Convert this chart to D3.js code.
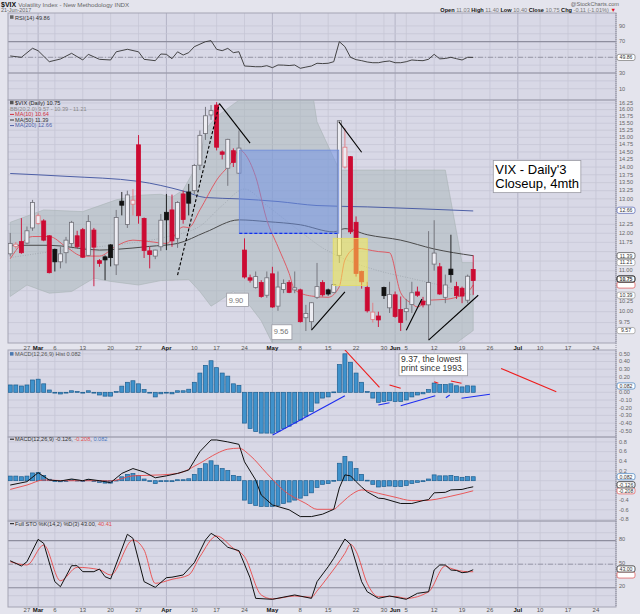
<!DOCTYPE html>
<html>
<head>
<meta charset="utf-8">
<script src="https://cdn.jsdelivr.net/npm/d3@7"></script>
<style>
  body { margin: 0; background: #e4e4ed; }
  svg { display: block; font-family: "Liberation Sans", Arial, sans-serif; }
</style>
</head>
<body>
<script>
const width = 640;
const height = 614;
const left = 8;
const right = 616;

// daily candles, 22-Feb-2017 .. 21-Jun-2017 (trading day index 0..83)
const open = [11.44,11.64,11.77,11.73,12.15,12.28,12.35,11.93,11.56,11.23,
  11.47,11.72,11.93,12.10,11.40,12.09,11.26,11.36,11.68,11.15,
  12.93,12.25,12.84,14.74,12.42,11.52,11.38,11.63,12.60,12.67,
  11.86,13.15,13.21,13.25,14.06,15.13,15.80,16.17,14.50,13.96,
  14.54,13.80,11.54,10.82,10.58,10.70,10.39,10.92,10.13,10.53,
  10.70,10.52,10.52,9.86,9.77,10.34,10.70,10.52,10.46,11.40,
  14.00,14.34,12.31,10.98,10.58,9.82,9.90,10.58,10.09,10.40,
  10.05,10.00,10.17,10.47,10.25,10.16,11.17,11.10,10.34,11.04,
  10.60,10.56,10.27,11.03];
const high = [12.01,11.76,12.43,12.19,12.97,12.57,12.40,11.95,11.58,11.63,
  11.90,12.35,12.07,12.15,12.52,12.15,11.30,11.40,11.70,12.67,
  13.21,13.25,13.30,15.08,12.45,11.63,11.55,12.55,13.15,13.13,
  12.93,13.25,13.46,14.10,15.24,16.10,16.17,16.28,14.55,14.95,
  14.62,15.24,11.86,10.90,10.98,10.76,10.98,11.10,10.98,10.78,
  10.76,10.98,10.55,10.16,10.22,11.20,10.76,10.55,10.67,15.60,
  15.32,14.36,12.48,11.00,10.72,10.21,10.00,10.60,10.72,10.48,
  10.36,10.30,10.72,10.60,10.35,12.06,12.37,11.20,10.90,11.96,
  10.72,10.60,10.90,11.40];
const low = [11.37,11.58,11.44,11.70,12.07,12.24,11.78,10.93,10.98,11.06,
  11.19,11.63,11.59,11.33,11.38,10.61,11.10,10.76,11.11,10.89,
  12.51,12.15,12.51,12.27,11.33,11.06,11.30,11.52,11.54,11.63,
  11.60,12.27,12.51,13.15,13.90,14.91,15.62,14.55,14.25,13.40,
  14.00,13.78,10.80,10.70,10.55,10.33,10.33,10.09,10.02,10.44,
  10.44,10.44,9.75,9.56,9.60,10.30,10.36,10.38,10.44,11.20,
  13.95,11.98,10.85,10.55,9.98,9.75,9.65,10.30,9.97,9.86,
  9.56,9.80,9.97,10.35,10.10,9.37,11.00,10.40,10.20,10.70,
  10.30,10.20,10.20,10.40];
const close = [11.72,11.70,11.47,12.07,12.89,12.50,11.81,10.95,11.23,11.44,
  11.81,12.31,11.63,11.35,12.33,11.62,11.19,11.28,11.34,12.45,
  12.81,13.12,12.96,12.50,11.53,11.42,11.54,12.37,12.38,11.79,
  12.89,12.39,12.87,14.05,15.07,15.77,15.96,14.66,14.42,14.93,
  14.15,14.63,10.84,10.76,10.85,10.36,10.82,10.11,10.59,10.68,
  10.46,10.57,9.77,9.96,10.21,10.60,10.40,10.42,10.65,15.59,
  14.66,12.04,10.93,10.72,10.02,9.99,9.81,10.38,10.41,9.89,
  9.75,10.07,10.45,10.39,10.16,10.70,11.46,10.42,10.64,10.90,
  10.38,10.37,10.86,10.75];

// overlays: [day index, value]
const ma10 = [[0,11.31],[4,11.91],[7,11.91],[10,11.63],[13,11.38],[16,11.38],[19,11.65],[22,11.81],[25,11.77],[28,11.72],[31,12.18],[32,12.16],[34,12.67],[37,13.58],[40,14.25],[41,14.59],[42,14.45],[44,13.69],[46,12.38],[48,11.63],[50,10.93],[51,10.52],[54,10.37],[57,10.34],[59,10.60],[60,11.28],[62,11.59],[66,11.50],[68,11.47],[70,10.45],[72,10.19],[73,10.11],[75,10.27],[78,10.29],[82,10.47],[83,10.64]];
const ma50 = [[0,11.67],[7,11.67],[16,11.54],[19,11.56],[25,11.64],[30,11.72],[35,12.03],[41,12.38],[46,12.33],[52,12.24],[58,12.04],[60,12.13],[64,11.96],[70,11.81],[76,11.57],[83,11.39]];
const ma200 = [[0,13.79],[10,13.70],[23,13.54],[31,13.24],[35,13.04],[41,13.00],[48,12.92],[55,12.80],[64,12.76],[74,12.70],[83,12.64]];
const bbUpper = [[0,12.31],[6,12.67],[13,12.62],[19,12.97],[23,13.11],[27,13.14],[29,13.05],[31,13.27],[34,14.23],[35,15.28],[37,15.74],[40,16.20],[42,16.50],[44,16.90],[54,16.90],[55,15.55],[59,13.90],[78,13.90],[81,11.21],[83,11.21]];
const bbLower = [[0,10.36],[3,10.64],[7,10.44],[11,10.48],[15,10.81],[18,10.73],[23,10.64],[27,10.75],[32,10.78],[34,10.48],[36,10.13],[37,10.21],[40,10.48],[41,10.36],[43,10.13],[45,9.79],[47,9.29],[48,8.90],[79,8.90],[80,9.30],[83,9.57]];
const bbMid = [[0,11.34],[10,11.55],[20,11.70],[28,11.90],[34,12.20],[38,12.80],[42,13.30],[46,12.80],[52,12.05],[56,11.60],[60,11.30],[66,11.00],[72,10.80],[78,10.60],[83,10.39]];

const rsi = [[0,51.7],[2,50],[4,61.5],[5,58.4],[7,44.4],[9,47.8],[11,55.1],[13,46.6],[14,53.8],[16,47.4],[18,46.6],[19,57],[21,60.2],[23,57],[24,47.4],[26,45.7],[27,54.2],[28,53.8],[29,48.2],[30,57],[31,52.9],[32,55.9],[33,63.5],[35,69.9],[36,71.2],[37,60.2],[38,58.4],[39,61.4],[40,55.9],[41,57.1],[42,38.9],[43,38.5],[44,38.0],[45,38.0],[46,39.3],[47,36.8],[48,40.2],[49,40],[50,39.5],[51,40.2],[52,36.0],[53,37.5],[54,38.9],[55,42.4],[56,42],[57,42.4],[58,44.4],[59,69.9],[60,63.5],[61,50],[62,47],[63,45.7],[64,44],[65,43.1],[66,43.1],[67,44.5],[68,45.3],[69,43.1],[70,43.1],[71,44.4],[72,46.6],[73,46],[74,45.7],[75,47.5],[76,53.8],[77,48],[78,48.5],[79,50],[80,48.2],[81,46.6],[82,50],[83,49.86]];

const macdHist = [0.095,0.095,0.082,0.095,0.16,0.17,0.11,0.03,-0.005,-0.022,
  -0.01,0.02,0.01,-0.005,0.02,0.0,-0.035,-0.05,-0.05,0.01,
  0.08,0.13,0.15,0.11,0.035,-0.005,-0.06,-0.02,-0.01,-0.02,
  0.02,0.02,0.04,0.13,0.25,0.35,0.41,0.32,0.25,0.21,
  0.11,0.09,-0.40,-0.47,-0.51,-0.53,-0.53,-0.53,-0.51,-0.47,
  -0.44,-0.40,-0.36,-0.31,-0.25,-0.14,-0.075,-0.06,0.005,0.36,
  0.50,0.39,0.25,0.13,0.01,-0.075,-0.13,-0.12,-0.11,-0.12,
  -0.12,-0.10,-0.06,-0.035,-0.02,0.035,0.12,0.10,0.10,0.11,
  0.085,0.07,0.085,0.082];
const macdLine = [[0,-0.09],[3,-0.02],[5,0.165],[7,0.015],[9,-0.006],[11,0.035],[13,0.0],[14,0.03],[16,0.0],[18,-0.04],[20,0.15],[22,0.25],[24,0.18],[26,0.06],[28,0.10],[30,0.15],[32,0.22],[34,0.60],[36,0.84],[37,0.84],[39,0.80],[41,0.75],[42,0.39],[44,0.015],[45,-0.295],[47,-0.50],[50,-0.60],[52,-0.74],[54,-0.74],[56,-0.69],[58,-0.59],[59,-0.15],[60,0.12],[61,0.10],[62,-0.02],[63,-0.13],[64,-0.23],[66,-0.36],[67,-0.37],[70,-0.47],[72,-0.47],[74,-0.41],[75,-0.39],[76,-0.25],[78,-0.24],[79,-0.19],[81,-0.18],[82,-0.15],[83,-0.126]];
const macdSignal = [[0,-0.18],[3,-0.09],[6,0.015],[10,0.0],[15,0.0],[18,-0.005],[22,0.10],[27,0.12],[30,0.15],[34,0.36],[37,0.56],[39,0.65],[41,0.67],[43,0.52],[46,0.15],[49,-0.20],[53,-0.47],[55,-0.59],[58,-0.59],[59,-0.50],[61,-0.30],[63,-0.19],[66,-0.26],[69,-0.34],[72,-0.41],[74,-0.41],[79,-0.32],[83,-0.208]];

const stoK = [[0,54.4],[2,47.7],[3,53.2],[5,81.6],[6,76.5],[8,27.8],[9,21.4],[11,48.1],[12,48.1],[13,40.5],[15,40.5],[16,43.9],[17,34.1],[18,31.2],[21,88],[22,82.9],[24,27.8],[26,20.6],[28,32.9],[29,33.5],[31,36.3],[33,51.9],[35,80.7],[36,89.2],[37,85],[39,71.5],[41,67.2],[43,32.6],[44,6.6],[47,5.4],[51,10.9],[54,6.6],[55,27.8],[57,46.8],[58,57.5],[60,82],[61,75.3],[63,27.8],[64,15],[66,6.6],[68,9.6],[71,5.4],[73,13],[75,15],[76,42.6],[77,49],[78,49],[79,42.6],[80,42],[81,39.2],[82,40],[83,43]];
const stoD = [[0,53.2],[3,49],[6,74.4],[9,29],[12,46],[16,43],[18,36.3],[22,80.7],[24,68],[26,25.7],[29,30.8],[32,36.3],[34,59.5],[37,85.8],[40,70.2],[42,59.5],[45,10.9],[47,5.9],[51,9.6],[54,8.0],[55,16],[57,34.1],[60,63.8],[61,75.3],[62,66.5],[64,25.7],[66,8.7],[69,9.0],[71,6.6],[75,15],[78,47.7],[79,44.7],[82,40.5],[83,40.41]];

// x axis: trading day index of each label
const tickIdx = [3,5,8,13,18,23,28,33,37,42,47,52,57,62,67,69,71,76,81,86,91,95,100,105];
const tickLbl = ["27","Mar","6","13","20","27","Apr","10","17","24","May","8","15","22","30","Jun","5","12","19","26","Jul","10","17","24"];

const svg = d3.select("body").append("svg").attr("width", width).attr("height", height);

const x = d3.scaleLinear().domain([-0.4, 108.6]).range([left, right]);

const panels = [
  { id: "rsi", top: 13, bottom: 100 },
  { id: "main", top: 100, bottom: 343 },
  { id: "hist", top: 350, bottom: 437 },
  { id: "macd", top: 437, bottom: 521 },
  { id: "sto", top: 521, bottom: 607 },
];
const yRsi = d3.scaleLinear().domain([-4.39, 106.43]).range([100, 13]);
const yMain = d3.scaleLog().domain([9.2975, 16.3606]).range([343, 100]);
const yHist = d3.scaleLinear().domain([-0.5805, 0.5494]).range([437, 350]);
const yMacd = d3.scaleLinear().domain([-0.831, 0.901]).range([521, 437]);
const ySto = d3.scaleLinear().domain([-4.38, 104.89]).range([607, 521]);

// value tags at the right edge: [value, text, border colour, bold, text shown]
const rsiTags = [[49.86, "49.86", "#777", false, true]];
const mainTags = [[12.66, "12.66", "#5060b0", false, true], [11.39, "11.39", "#444", false, true],
  [11.21, "11.21", "#999", false, true], [10.64, "10.64", "#e05050", false, false],
  [10.75, "10.75", "#111", true, true], [10.39, "10.39", "#999", false, true], [9.57, "9.57", "#999", false, true]];
const histTags = [[0.082, "0.082", "#3f7fc0", false, true]];
const macdTags = [[0.082, "0.082", "#3f7fc0", false, true], [-0.208, "-0.208", "#e05050", false, true],
  [-0.126, "-0.126", "#111", false, true]];
const stoTags = [[40.41, "40.41", "#e05050", false, false], [43.0, "43.00", "#111", false, true]];

// panel backgrounds and clips
panels.forEach((p) => {
  svg.append("rect").attr("x", left).attr("y", p.top)
    .attr("width", right - left).attr("height", p.bottom - p.top)
    .attr("fill", "#d8d8e6");
  svg.append("clipPath").attr("id", "clip-" + p.id)
    .append("rect").attr("x", left).attr("y", p.top)
    .attr("width", right - left).attr("height", p.bottom - p.top);
});

function hGrid(scale, vals, fmt, tags, dy) {
  const g = svg.append("g");
  vals.forEach((v) => {
    g.append("line").attr("x1", left).attr("x2", right)
      .attr("y1", scale(v)).attr("y2", scale(v))
      .attr("stroke", "#c6c6d6").attr("stroke-width", 0.8);
    const hidden = (tags || []).some((t) => Math.abs(scale(t[0]) - scale(v)) < 5.5);
    if (fmt && !hidden) {
      g.append("text").attr("x", right + 3).attr("y", scale(v) + (dy === undefined ? 1.8 : dy))
        .attr("font-size", 5.6).attr("fill", "#666").text(fmt(v));
    }
  });
}

// vertical grid, all panels
panels.forEach((p) => {
  tickIdx.forEach((t, k) => {
    const month = isNaN(+tickLbl[k]);
    svg.append("line").attr("x1", x(t)).attr("x2", x(t))
      .attr("y1", p.top).attr("y2", p.bottom)
      .attr("stroke", month ? "#b4b4c6" : "#c6c6d6").attr("stroke-width", month ? 1 : 0.8);
  });
});

// horizontal grids + right labels
hGrid(yRsi, [10, 30, 50, 70, 90], (v) => v, rsiTags);
hGrid(yRsi, [20, 40, 60, 80]);
hGrid(yMain, d3.range(38, 66).map((k) => k / 4), (v) => v.toFixed(2), mainTags);
hGrid(yHist, d3.range(-5, 6).map((k) => k / 10), (v) => v.toFixed(2), histTags);
hGrid(yMacd, d3.range(-4, 5).map((k) => k / 5), (v) => v.toFixed(1), macdTags);
hGrid(ySto, [20, 50, 80], (v) => v, stoTags, 0.6);
hGrid(ySto, [10, 30, 40, 60, 70, 90]);

// reference lines in oscillators
[[yRsi, 70], [yRsi, 30], [ySto, 80], [ySto, 20]].forEach(([s, v]) => {
  svg.append("line").attr("x1", left).attr("x2", right).attr("y1", s(v)).attr("y2", s(v))
    .attr("stroke", "#8e8e9e").attr("stroke-width", 1.1);
});
[[yRsi, 50], [ySto, 50]].forEach(([s, v]) => {
  svg.append("line").attr("x1", left).attr("x2", right).attr("y1", s(v)).attr("y2", s(v))
    .attr("stroke", "#8a8a9a").attr("stroke-width", 0.8).attr("stroke-dasharray", "5,2,1,2");
});

// panel frames
panels.forEach((p) => {
  svg.append("rect").attr("x", left).attr("y", p.top)
    .attr("width", right - left).attr("height", p.bottom - p.top)
    .attr("fill", "none").attr("stroke", "#a4a4b4").attr("stroke-width", 1);
});
svg.append("line").attr("x1", right).attr("x2", right).attr("y1", 13).attr("y2", 607)
  .attr("stroke", "#8c8c9c").attr("stroke-dasharray", "1,1");

const lineOf = (ys) => d3.line().x((d) => x(d[0])).y((d) => ys(d[1]));

// ---------- RSI ----------
svg.append("path").datum(rsi).attr("clip-path", "url(#clip-rsi)")
  .attr("d", lineOf(yRsi)).attr("fill", "none").attr("stroke", "#333").attr("stroke-width", 0.9);

// ---------- main price panel ----------
const main = svg.append("g").attr("clip-path", "url(#clip-main)");

// Bollinger band: upper edge forward, lower edge back
main.append("path")
  .datum(bbUpper.concat(bbLower.slice().reverse()))
  .attr("d", (d) => lineOf(yMain)(d) + "Z")
  .attr("fill", "#a7b6b8").attr("fill-opacity", 0.5)
  .attr("stroke", "#a9b3b6").attr("stroke-width", 0.6);

main.append("path").datum(bbMid).attr("d", lineOf(yMain).curve(d3.curveMonotoneX))
  .attr("fill", "none").attr("stroke", "#9aa0a8").attr("stroke-width", 0.7).attr("stroke-dasharray", "1,1.5");
main.append("path").datum(ma200).attr("d", lineOf(yMain).curve(d3.curveMonotoneX))
  .attr("fill", "none").attr("stroke", "#4d5fa6").attr("stroke-width", 1);
main.append("path").datum(ma50).attr("d", lineOf(yMain).curve(d3.curveMonotoneX))
  .attr("fill", "none").attr("stroke", "#4a4a4a").attr("stroke-width", 1);
main.append("path").datum(ma10).attr("d", lineOf(yMain).curve(d3.curveMonotoneX))
  .attr("fill", "none").attr("stroke", "#e0505a").attr("stroke-width", 0.9);

// candles: black/red by change vs previous close, filled when close < open
const candles = d3.range(close.length).map((i) => {
  const prev = i > 0 ? close[i - 1] : open[i];
  return { i, o: open[i], h: high[i], l: low[i], c: close[i], up: close[i] >= prev, filled: close[i] < open[i] };
});
const cg = main.selectAll("g.candle").data(candles).join("g").attr("class", "candle");
const strokeOf = (d) => (d.up ? (d.filled ? "#111" : "#6e6e76") : (d.filled ? "#cc0a32" : "#e07a80"));
cg.append("line")
  .attr("x1", (d) => x(d.i)).attr("x2", (d) => x(d.i))
  .attr("y1", (d) => yMain(d.h)).attr("y2", (d) => yMain(d.l))
  .attr("stroke", strokeOf).attr("stroke-width", 0.9);
cg.append("rect")
  .attr("x", (d) => x(d.i) - 2).attr("width", 4)
  .attr("y", (d) => yMain(Math.max(d.o, d.c)))
  .attr("height", (d) => Math.max(1, yMain(Math.min(d.o, d.c)) - yMain(Math.max(d.o, d.c))))
  .attr("fill", (d) => (d.filled ? strokeOf(d) : "#ececf2"))
  .attr("stroke", strokeOf).attr("stroke-width", 0.8);

// annotations, in chart units [day, price]
const blueBox = { i0: 41.07, i1: 58.9, p0: 12.0, p1: 14.56 };
const yellowBox = { i0: 57.9, i1: 64.0, p0: 10.63, p1: 11.86 };
main.append("rect")
  .attr("x", x(blueBox.i0)).attr("width", x(blueBox.i1) - x(blueBox.i0))
  .attr("y", yMain(blueBox.p1)).attr("height", yMain(blueBox.p0) - yMain(blueBox.p1))
  .attr("fill", "#6c8fe6").attr("fill-opacity", 0.5).attr("stroke", "#6d8ad8").attr("stroke-width", 0.8);
main.append("line")
  .attr("x1", x(blueBox.i0)).attr("x2", x(blueBox.i1))
  .attr("y1", yMain(blueBox.p0)).attr("y2", yMain(blueBox.p0))
  .attr("stroke", "#1030f0").attr("stroke-width", 1.3).attr("stroke-dasharray", "3,2");
main.append("rect")
  .attr("x", x(yellowBox.i0)).attr("width", x(yellowBox.i1) - x(yellowBox.i0))
  .attr("y", yMain(yellowBox.p1)).attr("height", yMain(yellowBox.p0) - yMain(yellowBox.p1))
  .attr("fill", "#fff34a").attr("fill-opacity", 0.5).attr("stroke", "#e8e060").attr("stroke-width", 0.8);

const priceLines = [
  { a: [30, 10.89], b: [37.5, 16.22], dash: true },
  { a: [37.5, 16.22], b: [43, 14.8] },
  { a: [58.9, 15.56], b: [63, 14.49] },
  { a: [54, 9.58], b: [60, 10.47] },
  { a: [71, 9.58], b: [73.8, 10.3] },
  { a: [75, 9.36], b: [83.9, 10.39] },
];
main.selectAll("line.trend").data(priceLines).join("line").attr("class", "trend")
  .attr("x1", (d) => x(d.a[0])).attr("y1", (d) => yMain(d.a[1]))
  .attr("x2", (d) => x(d.b[0])).attr("y2", (d) => yMain(d.b[1]))
  .attr("stroke", "#000").attr("stroke-width", 1.1)
  .attr("stroke-dasharray", (d) => (d.dash ? "3,2" : null));

function noteBox(g, i0, i1, yTop, yBot, lines, size, colour, baseline) {
  g.append("rect").attr("x", x(i0)).attr("y", yTop)
    .attr("width", x(i1) - x(i0)).attr("height", yBot - yTop)
    .attr("fill", "#fff").attr("stroke", "#9a9aa4").attr("stroke-width", 0.8);
  lines.forEach((t, k) => {
    g.append("text").attr("x", x(i0) + 2).attr("y", yTop + baseline + k * size * 1.05)
      .attr("font-size", size).attr("fill", colour).text(t);
  });
}
noteBox(main, 86.6, 102.3, yMain(14.21), yMain(13.19), ["VIX - Daily'3", "Closeup, 4mth"], 13, "#000", 13.5);
noteBox(main, 38.8, 42.7, yMain(10.44), yMain(10.12), ["9.90"], 7.5, "#777", 10);
noteBox(main, 46.9, 50.5, yMain(9.70), yMain(9.37), ["9.56"], 7.5, "#777", 9.5);

// ---------- MACD histogram panel ----------
const hist = svg.append("g").attr("clip-path", "url(#clip-hist)");
hist.selectAll("rect").data(macdHist).join("rect")
  .attr("x", (d, i) => x(i) - 2).attr("width", 4)
  .attr("y", (d) => Math.min(yHist(d), yHist(0)))
  .attr("height", (d) => Math.max(0.8, Math.abs(yHist(d) - yHist(0))))
  .attr("fill", "#3f92cc").attr("stroke", "#1f5f90").attr("stroke-width", 0.7);

const histLines = [
  { a: [47.05, -0.555], b: [60, -0.044], c: "#1d2df0" },
  { a: [60, 0.55], b: [66.2, 0.065], c: "#ee1c1c" },
  { a: [68, 0.095], b: [70, 0.052], c: "#ee1c1c" },
  { a: [66, -0.165], b: [68, -0.135], c: "#1d2df0" },
  { a: [70, -0.174], b: [76.2, -0.044], c: "#1d2df0" },
  { a: [76, 0.138], b: [76.75, 0.117], c: "#ee1c1c" },
  { a: [78.1, -0.07], b: [78.8, -0.035], c: "#1d2df0" },
  { a: [79, 0.147], b: [80.9, 0.117], c: "#ee1c1c" },
  { a: [80.9, -0.078], b: [86, -0.026], c: "#1d2df0" },
  { a: [88, 0.31], b: [97.9, 0.008], c: "#ee1c1c" },
];
hist.selectAll("line.trend").data(histLines).join("line").attr("class", "trend")
  .attr("x1", (d) => x(d.a[0])).attr("y1", (d) => yHist(d.a[1]))
  .attr("x2", (d) => x(d.b[0])).attr("y2", (d) => yHist(d.b[1]))
  .attr("stroke", (d) => d.c).attr("stroke-width", 1.1);
noteBox(hist, 69.7, 82.0, yHist(0.5), yHist(0.215), ["9.37, the lowest", "print since 1993."], 8.6, "#333", 8.5);

// ---------- MACD panel ----------
const macd = svg.append("g").attr("clip-path", "url(#clip-macd)");
macd.selectAll("rect").data(macdHist).join("rect")
  .attr("x", (d, i) => x(i) - 2).attr("width", 4)
  .attr("y", (d) => Math.min(yMacd(d), yMacd(0)))
  .attr("height", (d) => Math.max(0.8, Math.abs(yMacd(d) - yMacd(0))))
  .attr("fill", "#3f92cc").attr("stroke", "#1f5f90").attr("stroke-width", 0.7);
macd.append("path").datum(macdSignal).attr("d", lineOf(yMacd).curve(d3.curveMonotoneX))
  .attr("fill", "none").attr("stroke", "#ea4a4a").attr("stroke-width", 0.9);
macd.append("path").datum(macdLine).attr("d", lineOf(yMacd))
  .attr("fill", "none").attr("stroke", "#111").attr("stroke-width", 1);

// ---------- Stochastics ----------
const sto = svg.append("g").attr("clip-path", "url(#clip-sto)");
sto.append("path").datum(stoD).attr("d", lineOf(ySto).curve(d3.curveMonotoneX))
  .attr("fill", "none").attr("stroke", "#ea4a4a").attr("stroke-width", 0.9);
sto.append("path").datum(stoK).attr("d", lineOf(ySto))
  .attr("fill", "none").attr("stroke", "#111").attr("stroke-width", 1);

// ---------- x axis labels ----------
[349.5, 612].forEach((yy) => {
  tickIdx.forEach((t, k) => {
    const month = isNaN(+tickLbl[k]);
    svg.append("text").attr("x", x(t)).attr("y", yy).attr("text-anchor", "middle")
      .attr("font-size", 6).attr("font-weight", month ? "bold" : "normal")
      .attr("fill", month ? "#111" : "#555").text(tickLbl[k]);
  });
});

// ---------- value tags on the right ----------
function drawTags(scale, tags, nudge) {
  let lastY = -99;
  tags.forEach(([v, txt, colour, bold, shown]) => {
    let y = scale(v) + (nudge || 0);
    if (shown && Math.abs(y - lastY) < 6) y = lastY + (y > lastY ? 6 : -6);
    svg.append("rect").attr("x", right + 1).attr("y", y - 3.1).attr("width", 18).attr("height", 6.2)
      .attr("rx", 2).attr("fill", "#fff").attr("stroke", colour).attr("stroke-width", bold ? 1 : 0.7);
    if (shown) {
      svg.append("text").attr("x", right + 10).attr("y", y + 1.9).attr("text-anchor", "middle")
        .attr("font-size", 5.2).attr("font-weight", bold ? "bold" : "normal").attr("fill", "#333").text(txt);
    }
    lastY = y;
  });
}
drawTags(yRsi, rsiTags);
drawTags(yMain, mainTags);
drawTags(yHist, histTags);
drawTags(yMacd, macdTags);
drawTags(ySto, stoTags, 3.2);

// ---------- legends ----------
function legend(y, parts, icon, box) {
  if (icon) {
    svg.append("line").attr("x1", 10).attr("x2", 14).attr("y1", y - 1.8).attr("y2", y - 1.8)
      .attr("stroke", icon).attr("stroke-width", 1);
  }
  if (box) {
    svg.append("rect").attr("x", 10).attr("y", y - 4.2).attr("width", 3.5).attr("height", 3.5).attr("fill", box);
  }
  const t = svg.append("text").attr("x", icon || box ? 15 : 10).attr("y", y).attr("font-size", 5.6);
  parts.forEach(([s, c]) => t.append("tspan").attr("fill", c).text(s));
}
legend(105, [["$VIX (Daily) 10.75", "#222"]], null, "#555");
legend(110.6, [["BB(20,2.0) 9.57 - 10.39 - 11.21", "#888"]]);
legend(116.2, [["MA(10) 10.64", "#d03040"]], "#d03040");
legend(121.8, [["MA(50) 11.39", "#333"]], "#333");
legend(127.4, [["MA(200) 12.66", "#4d5fa6"]], "#4d5fa6");
legend(19.5, [["RSI(14) 49.86", "#333"]], null, "#666");
legend(356.3, [["MACD(12,26,9) Hist 0.082", "#555"]], null, "#4a78b0");
legend(441, [["MACD(12,26,9) -0.126, ", "#333"], ["-0.208", "#e05050"], [", ", "#333"], ["0.082", "#4a78c0"]], "#111");
legend(525.5, [["Full STO %K(14,2) %D(3) 43.00, ", "#333"], ["40.41", "#e05050"]], "#111");

// ---------- header ----------
const head = svg.append("text").attr("x", 1).attr("y", 6.5).attr("font-size", 6.2);
head.append("tspan").attr("font-weight", "bold").attr("font-size", 7).attr("fill", "#111").text("$VIX ");
head.append("tspan").attr("fill", "#666").text("Volatility Index - New Methodology INDX");
svg.append("text").attr("x", 1).attr("y", 12.3).attr("font-size", 5.4).attr("fill", "#666").text("21-Jun-2017");
svg.append("text").attr("x", right + 3).attr("y", 6).attr("text-anchor", "end")
  .attr("font-size", 5.6).attr("fill", "#666").text("@StockCharts.com");
const quote = svg.append("text").attr("x", right).attr("y", 12.3).attr("text-anchor", "end").attr("font-size", 5.6);
[["Open ", true], ["11.03 ", false], ["High ", true], ["11.40 ", false], ["Low ", true], ["10.40 ", false],
 ["Close ", true], ["10.75 ", false], ["Chg ", true], ["-0.11 (-1.01%) ", false]].forEach(([s, b]) => {
  quote.append("tspan").attr("font-weight", b ? "bold" : "normal").attr("fill", b ? "#111" : "#777").text(s);
});
quote.append("tspan").attr("fill", "#e01020").text("\u25BC");
</script>
</body>
</html>
